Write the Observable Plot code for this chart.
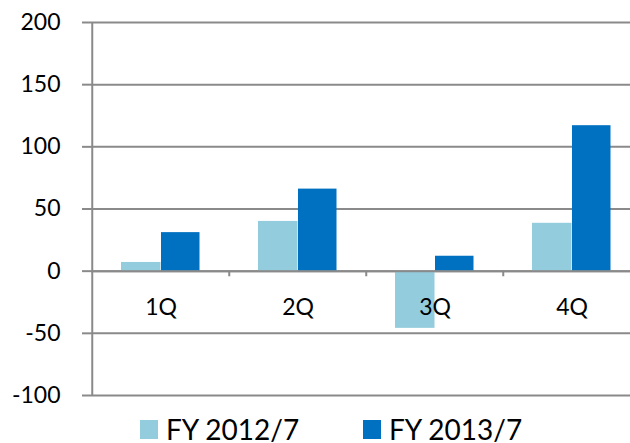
<!DOCTYPE html>
<html>
<head>
<meta charset="utf-8">
<script src="https://cdn.jsdelivr.net/npm/d3@7"></script>
<script src="https://cdn.jsdelivr.net/npm/@observablehq/plot@0.6"></script>
<style>
  html, body { margin: 0; padding: 0; background: #fff; overflow: hidden; }
  #wrap { position: relative; width: 630px; height: 443px; font-family: Lato, "Open Sans", sans-serif; }
  .leg { position: absolute; display: flex; align-items: flex-start; }
  .sw { width: 18px; height: 19px; margin-top: 5px; margin-right: 8px; }
  .lt { font-size: 28px; line-height: 28px; color: #000; white-space: nowrap; }
</style>
</head>
<body>
<div id="wrap"></div>
<script>
const quarters = ["1Q", "2Q", "3Q", "4Q"];
const fy2012 = [7, 40, -46, 38.5];
const fy2013 = [31, 66, 12, 117];
const seriesNames = ["FY 2012/7", "FY 2013/7"];
const yTicks = [-100, -50, 0, 50, 100, 150, 200];
const colors = ["#93CDDD", "#0070C0"];

const rows2012 = quarters.map((q, i) => ({q, v: fy2012[i]}));
const rows2013 = quarters.map((q, i) => ({q, v: fy2013[i]}));

const gridColor = "#8a8a8a";
const plot = Plot.plot({
  width: 630,
  height: 410,
  marginTop: 22,
  marginBottom: 15,
  marginLeft: 91,
  marginRight: 0,
  style: {fontFamily: "Lato, 'Open Sans', sans-serif", fontSize: "23px", color: "#000", background: "transparent"},
  x: {type: "band", domain: quarters, range: [91, 641], padding: 0, axis: null},
  y: {domain: [-100, 200], ticks: yTicks, label: null},
  marks: [
    Plot.ruleY(yTicks, {stroke: gridColor, strokeWidth: 2}),
    Plot.axisY(yTicks, {tickSize: 9, tickPadding: 22, tickFormat: d => String(d), stroke: gridColor, strokeWidth: 2, strokeOpacity: 1, label: null, fontSize: 23, fill: "#000"}),
    Plot.barY(rows2012, {x: "q", y: "v", fill: colors[0], insetLeft: 29, insetRight: 68.5}),
    Plot.barY(rows2013, {x: "q", y: "v", fill: colors[1], insetLeft: 69, insetRight: 29.5}),
    // category boundary ticks below zero line
    Plot.ruleX(quarters.slice(1), {x: d => d, y1: 0, y2: -4.5, dx: -68.75, stroke: gridColor, strokeWidth: 2}),
    // vertical axis line
    Plot.ruleX(quarters.slice(0, 1), {x: d => d, y1: -100, y2: 200, dx: -68.75, stroke: gridColor, strokeWidth: 2}),
    Plot.ruleY([0], {stroke: gridColor, strokeWidth: 2}),
    Plot.text(quarters, {x: d => d, y: () => 0, text: d => d, dy: 36, fontSize: 23, fill: "#000"})
  ]
});
const wrap = document.getElementById("wrap");
plot.style.position = "absolute";
plot.style.left = "0px";
plot.style.top = "0px";
plot.style.overflow = "visible";
wrap.appendChild(plot);

const legendLeft = [140, 363];
seriesNames.forEach((name, i) => {
  const item = document.createElement("div");
  item.className = "leg";
  item.style.left = legendLeft[i] + "px";
  item.style.top = "415px";
  const sw = document.createElement("div");
  sw.className = "sw";
  sw.style.background = colors[i];
  const t = document.createElement("span");
  t.className = "lt";
  t.textContent = name;
  item.appendChild(sw);
  item.appendChild(t);
  wrap.appendChild(item);
});
</script>
</body>
</html>
